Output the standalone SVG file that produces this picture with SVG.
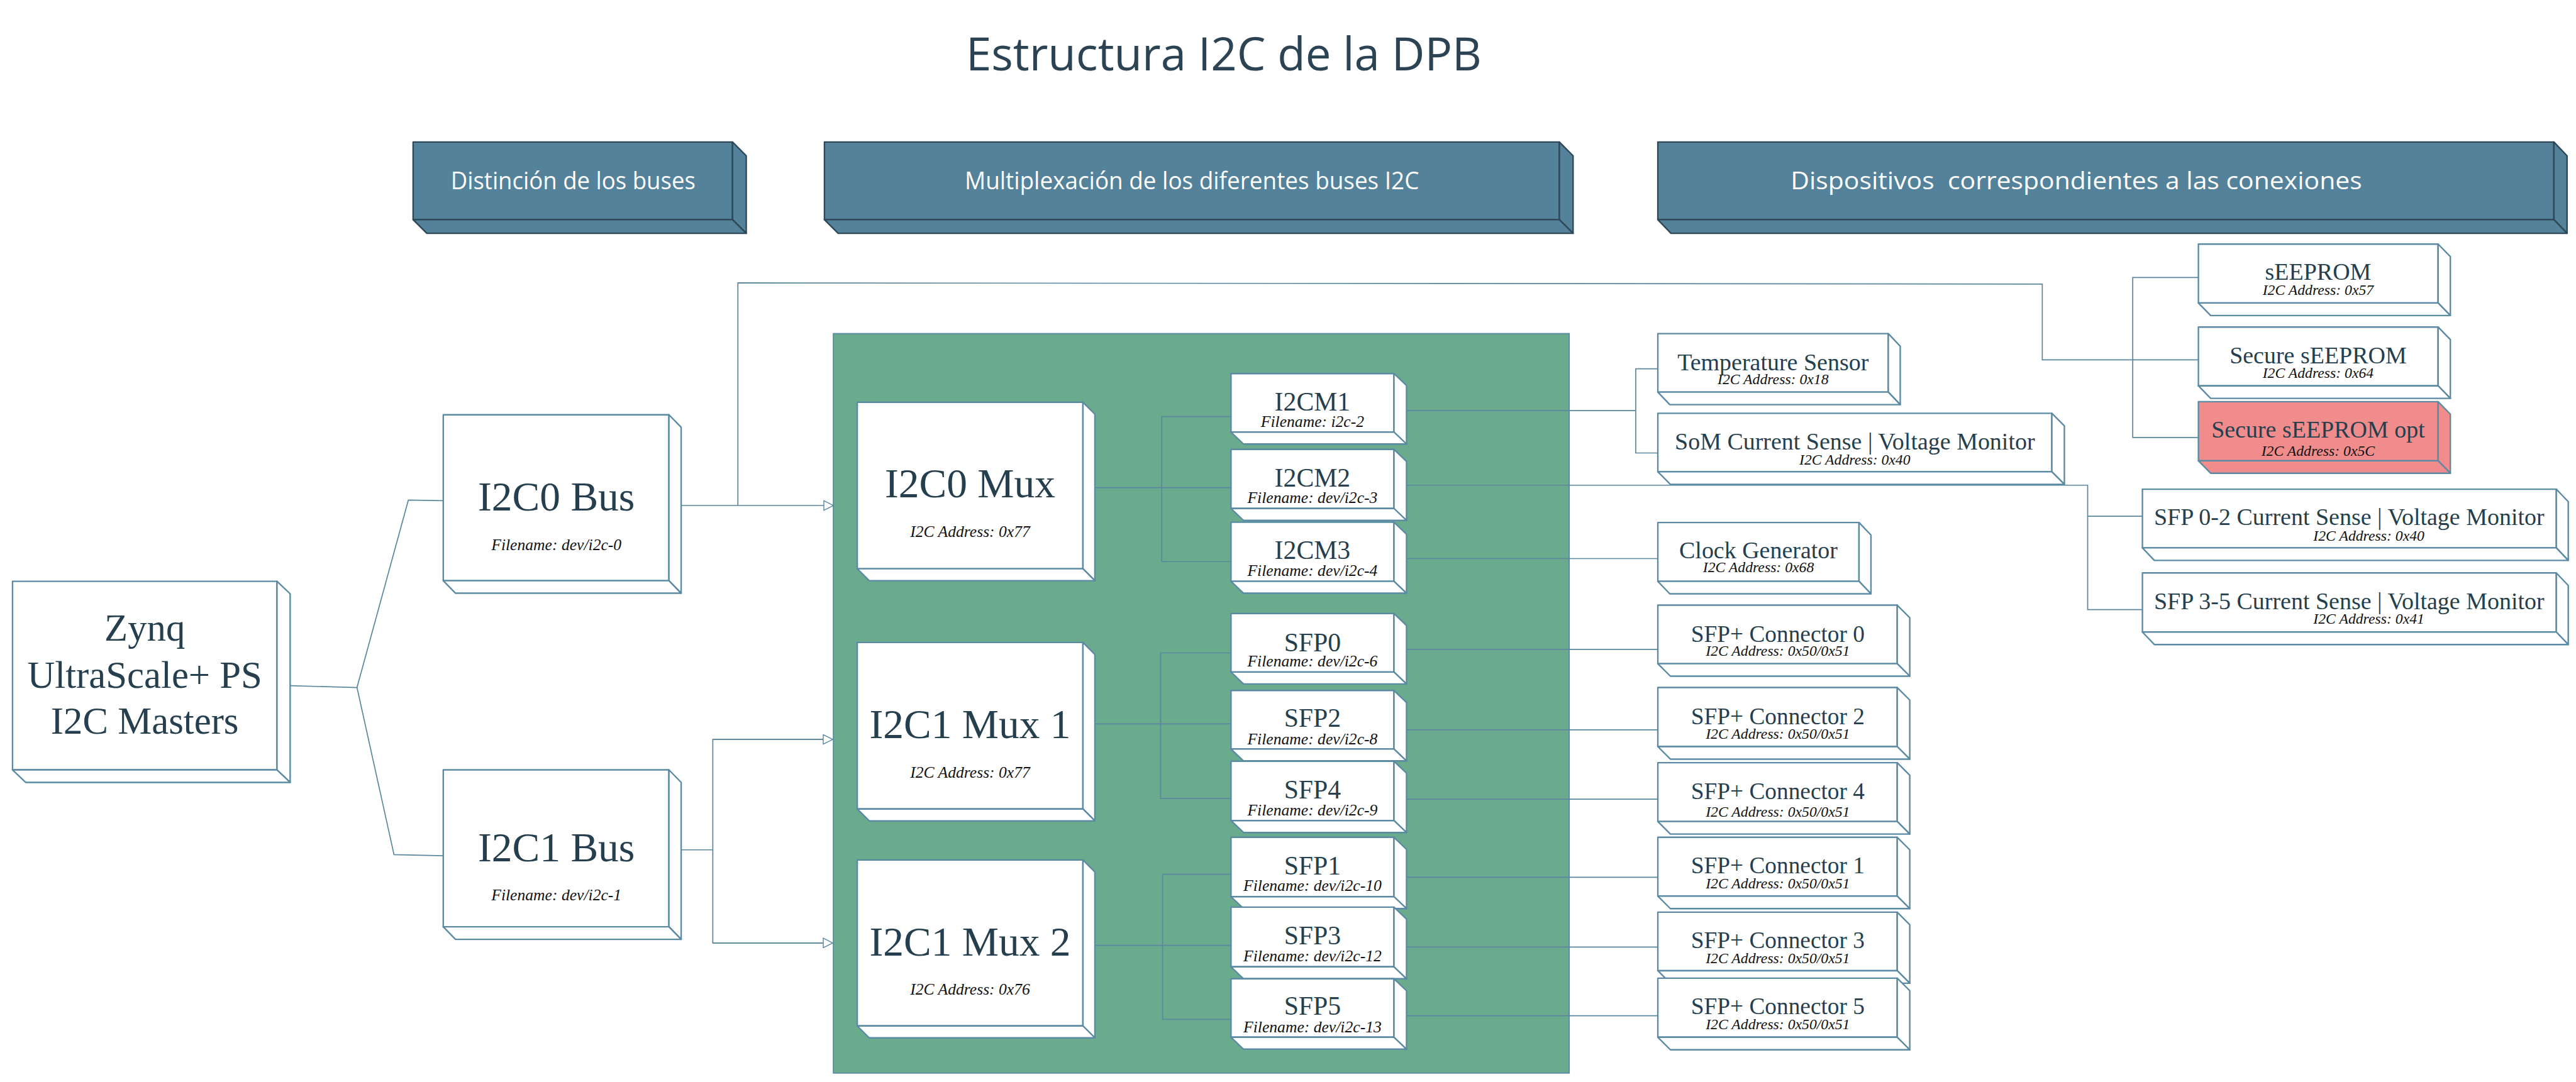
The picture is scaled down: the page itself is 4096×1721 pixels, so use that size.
<svg xmlns="http://www.w3.org/2000/svg" width="4096" height="1721" viewBox="0 0 4096 1721">
<defs>
<style>
.box{fill:#fff;stroke:#5B8AA4;stroke-width:2.5;stroke-linejoin:round}
.pink{fill:#F08C8C}
.hdr{fill:#53829A;stroke:#2F4858;stroke-width:2.5;stroke-linejoin:round}
.ht{font-family:"Open Sans","Liberation Sans",sans-serif;font-size:40px;fill:#fff;text-anchor:middle}
.ti{font-family:"Liberation Serif","Times New Roman",serif;fill:#253F4E;text-anchor:middle}
.su{font-family:"Liberation Serif","Times New Roman",serif;font-style:italic;fill:#111;text-anchor:middle}
.big{font-size:69px}
.mid{font-size:44px}
.dev{font-size:40px}
.s27{font-size:27px}
.s25{font-size:25px}
.cn{fill:none;stroke:#5B879E;stroke-width:1.8}
</style>
<marker id="arr" viewBox="0 0 18 18" refX="17" refY="9" markerWidth="18" markerHeight="18" markerUnits="userSpaceOnUse" orient="auto">
<path d="M1,1 L17,9 L1,17 Z" fill="#fff" stroke="#5B879E" stroke-width="1.5"/>
</marker>
</defs>
<rect width="4096" height="1721" fill="#fff"/>
<g transform="scale(0.94925)">
<text id="title" x="2050" y="118" font-family="Open Sans, Liberation Sans, sans-serif" font-size="77" fill="#2B4352" text-anchor="middle" textLength="864" lengthAdjust="spacingAndGlyphs">Estructura I2C de la DPB</text>

<g id="hdr1">
<rect class="hdr" x="692" y="238" width="535" height="130"/>
<polygon class="hdr" points="1227,238 1250,261 1250,391 1227,368"/>
<polygon class="hdr" points="692,368 1227,368 1250,391 715,391"/>
<text class="ht" x="960" y="317" textLength="410" lengthAdjust="spacingAndGlyphs">Distinción de los buses</text>
</g>
<g id="hdr2">
<rect class="hdr" x="1381" y="238" width="1231" height="130"/>
<polygon class="hdr" points="2612,238 2635,261 2635,391 2612,368"/>
<polygon class="hdr" points="1381,368 2612,368 2635,391 1404,391"/>
<text class="ht" x="1996.5" y="317" textLength="761" lengthAdjust="spacingAndGlyphs">Multiplexación de los diferentes buses I2C</text>
</g>
<g id="hdr3">
<rect class="hdr" x="2777" y="238" width="1501" height="130"/>
<polygon class="hdr" points="4278,238 4300,261 4300,391 4278,368"/>
<polygon class="hdr" points="2777,368 4278,368 4300,391 2799,391"/>
<text class="ht" x="3478" y="317" textLength="957" lengthAdjust="spacingAndGlyphs" xml:space="preserve">Dispositivos  correspondientes a las conexiones</text>
</g>

<rect id="mux-panel" x="1396" y="559" width="1232.5" height="1239" fill="#6AAB8E" stroke="#5B8AA4" stroke-width="2"/>

<g id="connectors">
<path class="cn" d="M486,1149 L598,1152 L684,838 L742,839"/>
<path class="cn" d="M598,1152 L660,1432 L742,1434"/>
<path class="cn" d="M1141,847 L1396,847" marker-end="url(#arr)"/>
<path class="cn" d="M1236,847 L1236,474 L3421,476 L3421,603 L3682,603"/>
<path class="cn" d="M3682,465 L3572.5,465 L3572.5,733 L3682,733"/>
<path class="cn" d="M1141,1424 L1194,1424"/>
<path class="cn" d="M1394,1239 L1194,1239 L1194,1580 L1394,1580"/>
<path class="cn" d="M1194,1239 L1395,1239" marker-end="url(#arr)"/>
<path class="cn" d="M1194,1580 L1395,1580" marker-end="url(#arr)"/>
<path class="cn" d="M1834,817 L2062,817"/>
<path class="cn" d="M2062,698 L1946,698 L1946,941 L2062,941"/>
<path class="cn" d="M1834,1213 L2062,1213"/>
<path class="cn" d="M2062,1094 L1944,1094 L1944,1338 L2062,1338"/>
<path class="cn" d="M1834,1584 L2062,1584"/>
<path class="cn" d="M2062,1465 L1947.5,1465 L1947.5,1708 L2062,1708"/>
<path class="cn" d="M2356,688 L2740,688"/>
<path class="cn" d="M2777,618 L2740,618 L2740,759 L2777,759"/>
<path class="cn" d="M2356,813 L3497,813 L3497,1021.5 L3589,1021.5"/>
<path class="cn" d="M3497,865 L3589,865"/>
<path class="cn" d="M2356,936 L2777,936"/>
<path class="cn" d="M2356,1088 L2777,1088"/>
<path class="cn" d="M2356,1223 L2777,1223"/>
<path class="cn" d="M2356,1339 L2777,1339"/>
<path class="cn" d="M2356,1470 L2777,1470"/>
<path class="cn" d="M2356,1587 L2777,1587"/>
<path class="cn" d="M2356,1702 L2777,1702"/>
</g>

<g id="zynq">
<rect class="box" x="21" y="974" width="443" height="316"/>
<polygon class="box" points="464,974 486,995 486,1311 464,1290"/>
<polygon class="box" points="21,1290 464,1290 486,1311 43,1311"/>
<text class="ti" font-size="64" x="242.5" y="1074">Zynq</text>
<text class="ti" font-size="64" x="242.5" y="1152">UltraScale+ PS</text>
<text class="ti" font-size="64" x="242.5" y="1229">I2C Masters</text>
</g>

<g id="i2c0-bus">
<rect class="box" x="742.5" y="695" width="378" height="278"/>
<polygon class="box" points="1120.5,695 1141,716 1141,994 1120.5,973"/>
<polygon class="box" points="742.5,973 1120.5,973 1141,994 763,994"/>
<text class="ti big" x="932" y="855">I2C0 Bus</text>
<text class="su s27" x="932" y="922">Filename: dev/i2c-0</text>
</g>
<g id="i2c1-bus">
<rect class="box" x="742.5" y="1290" width="378" height="263"/>
<polygon class="box" points="1120.5,1290 1141,1311 1141,1574 1120.5,1553"/>
<polygon class="box" points="742.5,1553 1120.5,1553 1141,1574 763,1574"/>
<text class="ti big" x="932" y="1443">I2C1 Bus</text>
<text class="su s27" x="932" y="1509">Filename: dev/i2c-1</text>
</g>

<g id="i2c0-mux">
<rect class="box" x="1436" y="674" width="378" height="279"/>
<polygon class="box" points="1814,674 1834,694 1834,973 1814,953"/>
<polygon class="box" points="1436,953 1814,953 1834,973 1456,973"/>
<text class="ti big" x="1625" y="833">I2C0 Mux</text>
<text class="su s27" x="1625" y="900">I2C Address: 0x77</text>
</g>
<g id="i2c1-mux1">
<rect class="box" x="1436" y="1076.5" width="378" height="279"/>
<polygon class="box" points="1814,1076.5 1834,1096.5 1834,1375.5 1814,1355.5"/>
<polygon class="box" points="1436,1355.5 1814,1355.5 1834,1375.5 1456,1375.5"/>
<text class="ti big" x="1625" y="1237">I2C1 Mux 1</text>
<text class="su s27" x="1625" y="1303.5">I2C Address: 0x77</text>
</g>
<g id="i2c1-mux2">
<rect class="box" x="1436" y="1441" width="378" height="278"/>
<polygon class="box" points="1814,1441 1834,1461 1834,1739 1814,1719"/>
<polygon class="box" points="1436,1719 1814,1719 1834,1739 1456,1739"/>
<text class="ti big" x="1625" y="1601">I2C1 Mux 2</text>
<text class="su s27" x="1625" y="1667">I2C Address: 0x76</text>
</g>

<g id="i2cm1">
<rect class="box" x="2062" y="626" width="273" height="98"/>
<polygon class="box" points="2335,626 2356,646 2356,744 2335,724"/>
<polygon class="box" points="2062,724 2335,724 2356,744 2083,744"/>
<text class="ti mid" x="2198.5" y="688">I2CM1</text>
<text class="su s27" x="2198.5" y="715">Filename: i2c-2</text>
</g>
<g id="i2cm2">
<rect class="box" x="2062" y="753" width="273" height="99"/>
<polygon class="box" points="2335,753 2356,773 2356,872 2335,852"/>
<polygon class="box" points="2062,852 2335,852 2356,872 2083,872"/>
<text class="ti mid" x="2198.5" y="815">I2CM2</text>
<text class="su s27" x="2198.5" y="843">Filename: dev/i2c-3</text>
</g>
<g id="i2cm3">
<rect class="box" x="2062" y="875" width="273" height="99"/>
<polygon class="box" points="2335,875 2356,895 2356,994 2335,974"/>
<polygon class="box" points="2062,974 2335,974 2356,994 2083,994"/>
<text class="ti mid" x="2198.5" y="937">I2CM3</text>
<text class="su s27" x="2198.5" y="965">Filename: dev/i2c-4</text>
</g>
<g id="sfp0">
<rect class="box" x="2062" y="1028" width="273" height="98"/>
<polygon class="box" points="2335,1028 2356,1048 2356,1146 2335,1126"/>
<polygon class="box" points="2062,1126 2335,1126 2356,1146 2083,1146"/>
<text class="ti mid" x="2198.5" y="1091">SFP0</text>
<text class="su s27" x="2198.5" y="1117">Filename: dev/i2c-6</text>
</g>
<g id="sfp2">
<rect class="box" x="2062" y="1157" width="273" height="98"/>
<polygon class="box" points="2335,1157 2356,1177 2356,1275 2335,1255"/>
<polygon class="box" points="2062,1255 2335,1255 2356,1275 2083,1275"/>
<text class="ti mid" x="2198.5" y="1218">SFP2</text>
<text class="su s27" x="2198.5" y="1247">Filename: dev/i2c-8</text>
</g>
<g id="sfp4">
<rect class="box" x="2062" y="1275.5" width="273" height="99.5"/>
<polygon class="box" points="2335,1275.5 2356,1295.5 2356,1395 2335,1375"/>
<polygon class="box" points="2062,1375 2335,1375 2356,1395 2083,1395"/>
<text class="ti mid" x="2198.5" y="1338">SFP4</text>
<text class="su s27" x="2198.5" y="1366">Filename: dev/i2c-9</text>
</g>
<g id="sfp1">
<rect class="box" x="2062" y="1403" width="273" height="99.5"/>
<polygon class="box" points="2335,1403 2356,1423 2356,1522.5 2335,1502.5"/>
<polygon class="box" points="2062,1502.5 2335,1502.5 2356,1522.5 2083,1522.5"/>
<text class="ti mid" x="2198.5" y="1465">SFP1</text>
<text class="su s27" x="2198.5" y="1493">Filename: dev/i2c-10</text>
</g>
<g id="sfp3">
<rect class="box" x="2062" y="1520" width="273" height="100"/>
<polygon class="box" points="2335,1520 2356,1540 2356,1640 2335,1620"/>
<polygon class="box" points="2062,1620 2335,1620 2356,1640 2083,1640"/>
<text class="ti mid" x="2198.5" y="1582.5">SFP3</text>
<text class="su s27" x="2198.5" y="1611">Filename: dev/i2c-12</text>
</g>
<g id="sfp5">
<rect class="box" x="2062" y="1640" width="273" height="98"/>
<polygon class="box" points="2335,1640 2356,1660 2356,1758 2335,1738"/>
<polygon class="box" points="2062,1738 2335,1738 2356,1758 2083,1758"/>
<text class="ti mid" x="2198.5" y="1700">SFP5</text>
<text class="su s27" x="2198.5" y="1729.5">Filename: dev/i2c-13</text>
</g>

<g id="temp-sensor">
<rect class="box" x="2777" y="559" width="386" height="98"/>
<polygon class="box" points="3163,559 3183,580 3183,678 3163,657"/>
<polygon class="box" points="2777,657 3163,657 3183,678 2797,678"/>
<text class="ti dev" x="2970" y="620">Temperature Sensor</text>
<text class="su s25" x="2970" y="644">I2C Address: 0x18</text>
</g>
<g id="som-sense">
<rect class="box" x="2777" y="692.5" width="660" height="98"/>
<polygon class="box" points="3437,692.5 3458,713.5 3458,811.5 3437,790.5"/>
<polygon class="box" points="2777,790.5 3437,790.5 3458,811.5 2798,811.5"/>
<text class="ti dev" x="3107" y="753">SoM Current Sense | Voltage Monitor</text>
<text class="su s25" x="3107" y="778.5">I2C Address: 0x40</text>
</g>
<g id="clock-gen">
<rect class="box" x="2777" y="875.5" width="337" height="98.5"/>
<polygon class="box" points="3114,875.5 3134,896.5 3134,995 3114,974"/>
<polygon class="box" points="2777,974 3114,974 3134,995 2797,995"/>
<text class="ti dev" x="2945.5" y="936">Clock Generator</text>
<text class="su s25" x="2945.5" y="959">I2C Address: 0x68</text>
</g>
<g id="sfpc0">
<rect class="box" x="2777" y="1014" width="401" height="98"/>
<polygon class="box" points="3178,1014 3199,1035 3199,1133 3178,1112"/>
<polygon class="box" points="2777,1112 3178,1112 3199,1133 2798,1133"/>
<text class="ti dev" x="2978" y="1075.5" textLength="291" lengthAdjust="spacingAndGlyphs">SFP+ Connector 0</text>
<text class="su s25" x="2978" y="1098.5">I2C Address: 0x50/0x51</text>
</g>
<g id="sfpc2">
<rect class="box" x="2777" y="1152" width="401" height="99"/>
<polygon class="box" points="3178,1152 3199,1173 3199,1272 3178,1251"/>
<polygon class="box" points="2777,1251 3178,1251 3199,1272 2798,1272"/>
<text class="ti dev" x="2978" y="1214" textLength="291" lengthAdjust="spacingAndGlyphs">SFP+ Connector 2</text>
<text class="su s25" x="2978" y="1238">I2C Address: 0x50/0x51</text>
</g>
<g id="sfpc4">
<rect class="box" x="2777" y="1278" width="401" height="98.5"/>
<polygon class="box" points="3178,1278 3199,1299 3199,1397.5 3178,1376.5"/>
<polygon class="box" points="2777,1376.5 3178,1376.5 3199,1397.5 2798,1397.5"/>
<text class="ti dev" x="2978" y="1339" textLength="291" lengthAdjust="spacingAndGlyphs">SFP+ Connector 4</text>
<text class="su s25" x="2978" y="1368">I2C Address: 0x50/0x51</text>
</g>
<g id="sfpc1">
<rect class="box" x="2777" y="1403" width="401" height="98.5"/>
<polygon class="box" points="3178,1403 3199,1424 3199,1522.5 3178,1501.5"/>
<polygon class="box" points="2777,1501.5 3178,1501.5 3199,1522.5 2798,1522.5"/>
<text class="ti dev" x="2978" y="1463" textLength="291" lengthAdjust="spacingAndGlyphs">SFP+ Connector 1</text>
<text class="su s25" x="2978" y="1489">I2C Address: 0x50/0x51</text>
</g>
<g id="sfpc3">
<rect class="box" x="2777" y="1528.5" width="401" height="98"/>
<polygon class="box" points="3178,1528.5 3199,1549.5 3199,1647.5 3178,1626.5"/>
<polygon class="box" points="2777,1626.5 3178,1626.5 3199,1647.5 2798,1647.5"/>
<text class="ti dev" x="2978" y="1589" textLength="291" lengthAdjust="spacingAndGlyphs">SFP+ Connector 3</text>
<text class="su s25" x="2978" y="1614">I2C Address: 0x50/0x51</text>
</g>
<g id="sfpc5">
<rect class="box" x="2777" y="1639" width="401" height="99"/>
<polygon class="box" points="3178,1639 3199,1660 3199,1759 3178,1738"/>
<polygon class="box" points="2777,1738 3178,1738 3199,1759 2798,1759"/>
<text class="ti dev" x="2978" y="1699" textLength="291" lengthAdjust="spacingAndGlyphs">SFP+ Connector 5</text>
<text class="su s25" x="2978" y="1724.5">I2C Address: 0x50/0x51</text>
</g>

<g id="seeprom">
<rect class="box" x="3682.5" y="409" width="401.5" height="98.7"/>
<polygon class="box" points="4084,409 4104.5,430 4104.5,528.7 4084,507.7"/>
<polygon class="box" points="3682.5,507.7 4084,507.7 4104.5,528.7 3703,528.7"/>
<text class="ti dev" x="3883" y="469">sEEPROM</text>
<text class="su s25" x="3883" y="494.5">I2C Address: 0x57</text>
</g>
<g id="secure-seeprom">
<rect class="box" x="3682.5" y="548" width="401.5" height="98.5"/>
<polygon class="box" points="4084,548 4104.5,569 4104.5,667.5 4084,646.5"/>
<polygon class="box" points="3682.5,646.5 4084,646.5 4104.5,667.5 3703,667.5"/>
<text class="ti dev" x="3883" y="608.5">Secure sEEPROM</text>
<text class="su s25" x="3883" y="633">I2C Address: 0x64</text>
</g>
<g id="secure-seeprom-opt">
<rect class="box pink" x="3682.5" y="673" width="401.5" height="99"/>
<polygon class="box pink" points="4084,673 4104.5,694 4104.5,793 4084,772"/>
<polygon class="box pink" points="3682.5,772 4084,772 4104.5,793 3703,793"/>
<text class="ti dev" x="3883" y="733.5">Secure sEEPROM opt</text>
<text class="su s25" x="3883" y="764">I2C Address: 0x5C</text>
</g>
<g id="sfp02-sense">
<rect class="box" x="3588.7" y="819.7" width="693.3" height="98.3"/>
<polygon class="box" points="4282,819.7 4302,840.7 4302,939 4282,918"/>
<polygon class="box" points="3588.7,918 4282,918 4302,939 3608.7,939"/>
<text class="ti dev" x="3935" y="880">SFP 0-2 Current Sense | Voltage Monitor</text>
<text class="su s25" x="3968" y="906">I2C Address: 0x40</text>
</g>
<g id="sfp35-sense">
<rect class="box" x="3588.7" y="960" width="693.3" height="99"/>
<polygon class="box" points="4282,960 4302,981 4302,1080 4282,1059"/>
<polygon class="box" points="3588.7,1059 4282,1059 4302,1080 3608.7,1080"/>
<text class="ti dev" x="3935" y="1020.5">SFP 3-5 Current Sense | Voltage Monitor</text>
<text class="su s25" x="3968" y="1045">I2C Address: 0x41</text>
</g>
</g>
</svg>
